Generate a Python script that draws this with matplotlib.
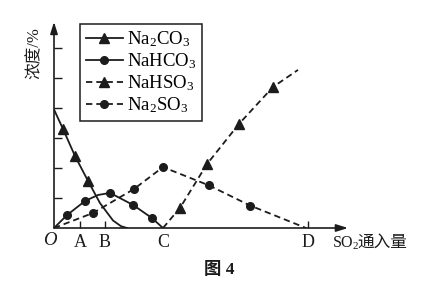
import matplotlib
matplotlib.use('Agg')
import matplotlib.pyplot as plt
from matplotlib.lines import Line2D

plt.rcParams['font.family'] = ['Liberation Serif', 'Noto Sans CJK SC']
plt.rcParams['mathtext.fontset'] = 'custom'
plt.rcParams['mathtext.rm'] = 'Liberation Serif'
plt.rcParams['mathtext.it'] = 'Liberation Serif:italic'

INK = '#1c1c1c'

# x positions of the marked points on the SO2 axis
x_ticks = [2.6, 5.1, 10.9, 25.4]
x_tick_labels = ['A', 'B', 'C', 'D']

# Na2CO3: curve points and triangle markers
na2co3_x = [0, 0.9, 2.1, 3.4, 4.6, 5.9, 6.7, 7.3]
na2co3_y = [3.95, 3.3, 2.4, 1.57, 0.83, 0.25, 0.06, 0]
na2co3_mx = [0.9, 2.1, 3.4]
na2co3_my = [3.3, 2.4, 1.57]

# NaHCO3: curve points and circle markers
nahco3_x = [0, 1.3, 3.1, 4.4, 5.6, 7.9, 9.8, 10.9]
nahco3_y = [0, 0.43, 0.9, 1.1, 1.17, 0.77, 0.33, 0]
nahco3_mx = [1.3, 3.1, 5.6, 7.9, 9.8]
nahco3_my = [0.43, 0.9, 1.17, 0.77, 0.33]

# NaHSO3: curve points and triangle markers
nahso3_x = [10.9, 12.6, 15.3, 18.5, 21.9, 24.4]
nahso3_y = [0, 0.67, 2.13, 3.47, 4.7, 5.27]
nahso3_mx = [12.6, 15.3, 18.5, 21.9]
nahso3_my = [0.67, 2.13, 3.47, 4.7]

# Na2SO3: curve points and circle markers
na2so3_x = [0, 3.9, 8.0, 10.9, 15.5, 19.6, 25.2]
na2so3_y = [0, 0.5, 1.3, 2.03, 1.42, 0.75, 0]
na2so3_mx = [3.9, 8.0, 10.9, 15.5, 19.6]
na2so3_my = [0.5, 1.3, 2.03, 1.42, 0.75]

fig = plt.figure(figsize=(4.37, 3.0), dpi=100)
ax = fig.add_axes([54 / 437, 72 / 300, 300 / 437, 210 / 300])
ax.set_xlim(0, 30)
ax.set_ylim(0, 7)
for s in ax.spines.values():
    s.set_visible(False)

dash = (0, (3.5, 2.2))
lw = 1.3

ax.plot(na2co3_x, na2co3_y, color=INK, lw=lw)
ax.plot(na2co3_mx, na2co3_my, ls='none', marker='^', ms=6.5, color=INK)
ax.plot(nahco3_x, nahco3_y, color=INK, lw=lw)
ax.plot(nahco3_mx, nahco3_my, ls='none', marker='o', ms=5.5, color=INK)
ax.plot(nahso3_x, nahso3_y, color=INK, lw=lw, ls=dash)
ax.plot(nahso3_mx, nahso3_my, ls='none', marker='^', ms=6.5, color=INK)
ax.plot(na2so3_x, na2so3_y, color=INK, lw=lw, ls=dash)
ax.plot(na2so3_mx, na2so3_my, ls='none', marker='o', ms=5.5, color=INK)

# axes drawn as arrows
arrow = dict(arrowstyle='-|>,head_length=0.7,head_width=0.22', color=INK, lw=1.2,
             shrinkA=0, shrinkB=0)
ax.annotate('', xy=(29.4, 0), xytext=(0, 0), arrowprops=arrow)
ax.annotate('', xy=(0, 6.87), xytext=(0, 0), arrowprops=arrow)

ax.set_yticks([1, 2, 3, 4, 5, 6])
ax.set_yticklabels([])
ax.tick_params(axis='y', direction='in', length=6, width=1, color=INK)
ax.set_xticks(x_ticks)
ax.set_xticklabels(x_tick_labels, fontsize=13, color=INK)
ax.tick_params(axis='x', direction='in', length=5, width=1, color=INK, pad=4)
ax.xaxis.get_major_ticks()[2].tick1line.set_visible(False)

ax.text(-0.4, -0.12, 'O', style='italic', fontsize=13.5, color=INK,
        ha='center', va='top')

fig.text(35 / 437, 1 - 53 / 300, '浓度/%', rotation=90, fontsize=12,
         ha='center', va='center', color=INK)
fig.text(332 / 437, 1 - 243 / 300, 'SO$_2$', fontsize=11.5, ha='left', va='center', color=INK)
fig.text(357 / 437, 1 - 243 / 300, '通入量', fontsize=12, ha='left', va='center', color=INK)
fig.text(219 / 437, 1 - 270 / 300, '图 4', fontsize=12.5, weight='bold',
         ha='center', va='center', color=INK)

handles = [
    Line2D([], [], color=INK, lw=lw, marker='^', ms=6.5),
    Line2D([], [], color=INK, lw=lw, marker='o', ms=5.5),
    Line2D([], [], color=INK, lw=lw, ls=dash, marker='^', ms=6.5),
    Line2D([], [], color=INK, lw=lw, ls=dash, marker='o', ms=5.5),
]
labels = ['Na$_2$CO$_3$', 'NaHCO$_3$', 'NaHSO$_3$', 'Na$_2$SO$_3$']
leg = fig.legend(handles, labels, loc='upper left',
                 bbox_to_anchor=(80 / 437, 1 - 24 / 300), fontsize=13.5,
                 frameon=True, fancybox=False, edgecolor=INK, framealpha=1,
                 handlelength=2.0, handletextpad=0.2, labelspacing=0.12,
                 borderpad=0.3, borderaxespad=0)
leg.get_frame().set_linewidth(1.1)

fig.savefig('out.png', dpi=100)
